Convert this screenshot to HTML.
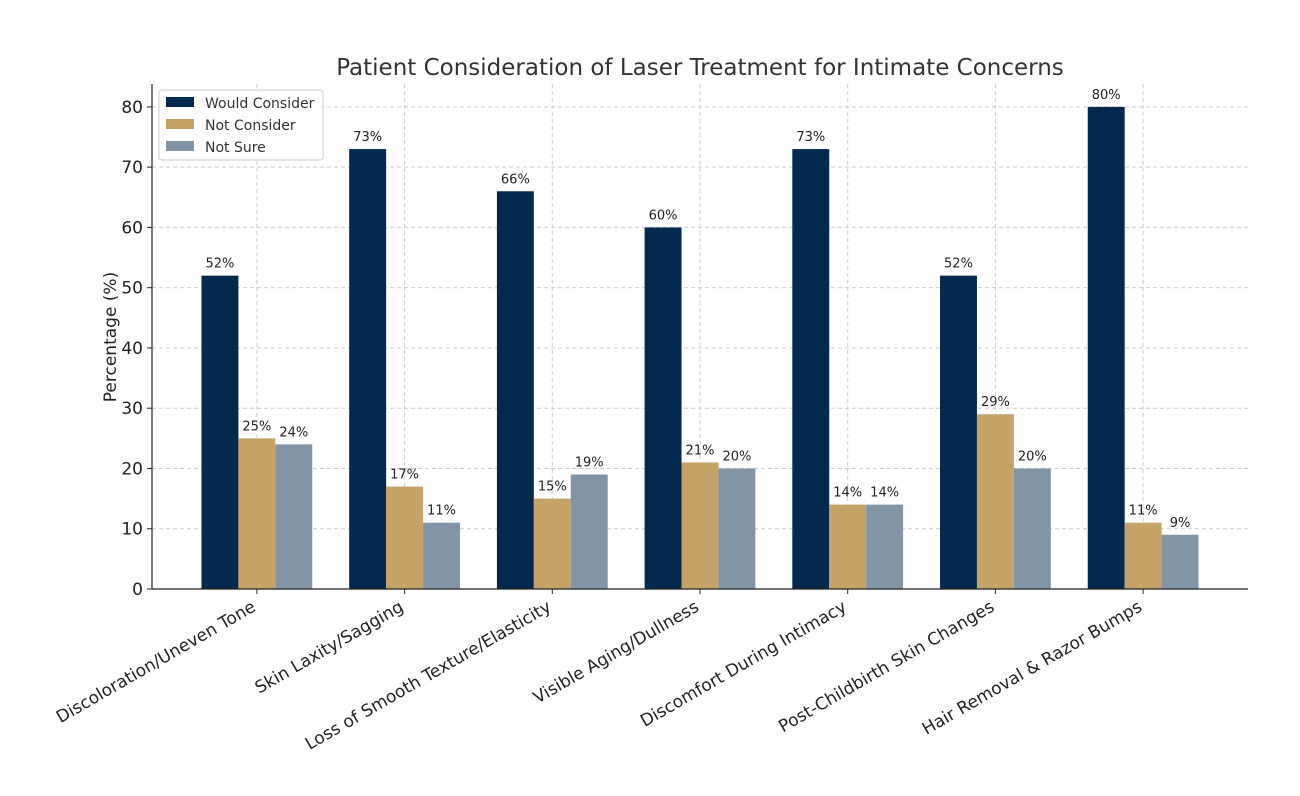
<!DOCTYPE html>
<html><head><meta charset="utf-8"><style>
html,body{margin:0;padding:0;background:#fff;}
svg{display:block;font-family:"DejaVu Sans","Liberation Sans",sans-serif;}
</style></head><body>
<svg id="chart" width="1300" height="796">
<text x="700" y="75" text-anchor="middle" font-size="23" fill="#333">Patient Consideration of Laser Treatment for Intimate Concerns</text>
<text transform="translate(116,337) rotate(-90)" text-anchor="middle" font-size="17" fill="#222">Percentage (%)</text>
<g id="grid"></g><g id="bars"></g><g id="axes"></g>
<g>
<rect x="159" y="90" width="164" height="70" fill="#fff" fill-opacity="0.85" stroke="#ccc" rx="3"/>
<g><rect x="166" y="97" width="28" height="10" fill="#03294f"/><text x="205" y="108" font-size="14" fill="#333">Would Consider</text></g>
<g><rect x="166" y="119" width="28" height="10" fill="#c7a266"/><text x="205" y="130" font-size="14" fill="#333">Not Consider</text></g>
<g><rect x="166" y="141" width="28" height="10" fill="#8295a6"/><text x="205" y="152" font-size="14" fill="#333">Not Sure</text></g>
</g>
</svg>
<script>
const categories=["Discoloration/Uneven Tone","Skin Laxity/Sagging","Loss of Smooth Texture/Elasticity","Visible Aging/Dullness","Discomfort During Intimacy","Post-Childbirth Skin Changes","Hair Removal & Razor Bumps"];
const wouldConsider=[52,73,66,60,73,52,80];
const notConsider=[25,17,15,21,14,29,11];
const notSure=[24,11,19,20,14,20,9];
const yTicks=[0,10,20,30,40,50,60,70,80];
const NS="http://www.w3.org/2000/svg";
const L=152,R=1248,T=84,B=589,xmin=-0.71,xmax=6.71,ymax=83.8;
const xs=v=>L+(v-xmin)/(xmax-xmin)*(R-L);
const ys=v=>B-v/ymax*(B-T);
function mk(tag,attrs,parent,txt){const e=document.createElementNS(NS,tag);for(const k in attrs)e.setAttribute(k,attrs[k]);if(txt!==undefined)e.textContent=txt;parent.appendChild(e);return e;}
const grid=document.getElementById('grid'),bars=document.getElementById('bars'),axes=document.getElementById('axes');
yTicks.forEach(t=>{const y=ys(t);
 const g=mk('line',{x1:L,x2:R,y1:y,y2:y,stroke:'#ccc','stroke-dasharray':'4,3','stroke-width':1},grid);
 
 
 mk('line',{x1:L-5,x2:L,y1:y,y2:y,stroke:'#222'},axes);
 const tl=mk('text',{x:L-9,y:y+6,'text-anchor':'end','font-size':17,fill:'#222'},axes,String(t));
 
 
});
categories.forEach((c,i)=>{const x=xs(i);
 const g=mk('line',{x1:x,x2:x,y1:T,y2:B,stroke:'#ccc','stroke-dasharray':'4,3'},grid);
 
 
 mk('line',{x1:x,x2:x,y1:B,y2:B+5,stroke:'#222'},axes);
 const tl=mk('text',{transform:`translate(${x},${B+21}) rotate(-30)`,'text-anchor':'end','font-size':17,fill:'#222'},axes,c);
 
 
});
const series=[[wouldConsider,'#03294f',-1],[notConsider,'#c7a266',0],[notSure,'#8295a6',1]];
const bw=0.25;
series.forEach(([vals,col,off])=>{vals.forEach((v,i)=>{
 const x0=xs(i+off*bw-bw/2),x1=xs(i+off*bw+bw/2);
 const r=mk('rect',{x:x0,y:ys(v),width:x1-x0,height:B-ys(v),fill:col},bars);
 
 
 const t=mk('text',{x:(x0+x1)/2,y:ys(v)-8,'text-anchor':'middle','font-size':13,fill:'#222'},bars,v+'%');
 
 
});});
mk('line',{x1:L,x2:L,y1:T,y2:B,stroke:'#222','stroke-width':1.2},axes);
mk('line',{x1:L,x2:R,y1:B,y2:B,stroke:'#222','stroke-width':1.2},axes);
</script>
</body></html>
